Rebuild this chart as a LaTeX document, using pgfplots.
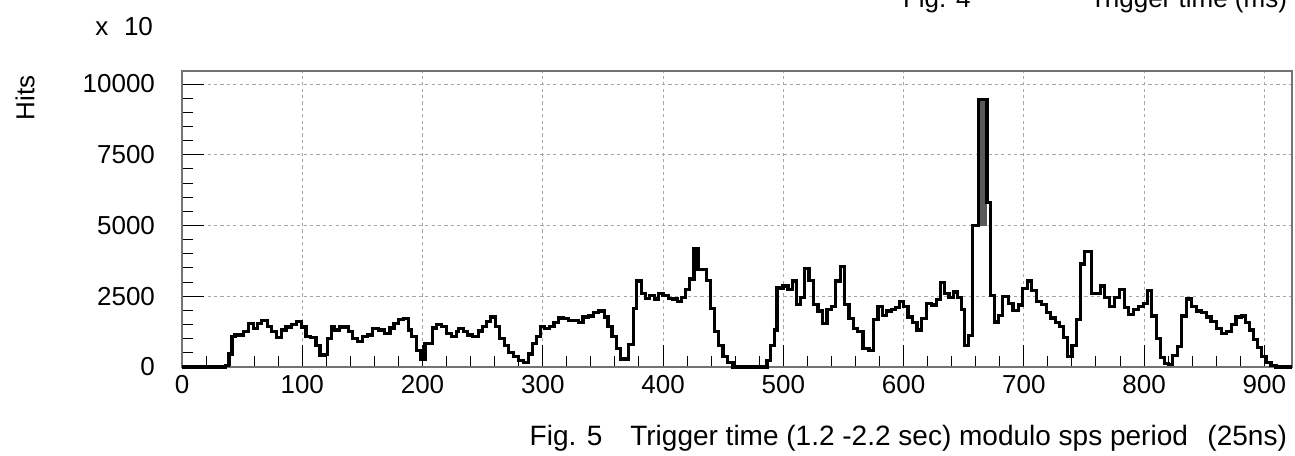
\documentclass[border=0pt]{standalone}
\usepackage{pgfplots}
\pgfplotsset{compat=1.18}
\usepackage{fontspec}
\setmainfont{Liberation Sans}
\begin{document}
\begin{tikzpicture}
\path[use as bounding box] (-91pt,-44pt) rectangle (556.5pt,183.5pt);
\begin{axis}[
  at={(0,0)}, anchor=south west,
  scale only axis, width=555pt, height=148pt,
  xmin=0, xmax=923, ymin=0, ymax=10460,
  xtick={0,100,...,900}, ytick={0,2500,5000,7500,10000},
  minor x tick num=4, minor y tick num=4,
  tick align=inside, xtick pos=left, ytick pos=left,
  major tick length=11pt, minor tick length=5.5pt,
  every tick/.style={black, line width=0.5pt},
  axis line style={black!55, line width=0.8pt},
  grid=major,
  major grid style={black!35, line width=0.5pt, dash pattern=on 1.6pt off 1.6pt},
  scaled ticks=false,
  /pgf/number format/assume math mode=true,
  /pgf/number format/1000 sep={},
  tick label style={font=\fontsize{13}{15}\selectfont},
  yticklabel style={xshift=-10pt},
  xticklabel style={yshift=-0.5pt},
  clip=false,
]
\addplot[fill=black!65, draw=none] coordinates {
(662.3,5000) (662.3,9450) (669.3,9450) (669.3,5000)} -- cycle;
\addplot[const plot mark left, black, line width=1.6pt, line join=miter] coordinates {
(0,0) (36.5,40) (38.5,460) (41.5,1090) (44,1130) (51,1250) (55.1,1530) (59.3,1350)
(62.6,1550) (66.2,1650) (70.9,1430) (74.5,1250) (78.7,1040) (82.8,1310) (86.4,1410)
(91.1,1490) (95.3,1610) (99.4,1410) (103.1,1090) (106.9,1040) (111.4,765) (114.7,400)
(118,440) (120.8,1010) (124.4,1430) (127.1,1310) (130.8,1410) (134.1,1410) (138.2,1250)
(141.8,1010) (145.7,890) (150.1,1070) (154,1130) (158.4,1350) (163.2,1310) (168.7,1170)
(172.9,1380) (176.2,1530) (179.8,1680) (183.9,1700) (188.1,1310) (190.9,1070) (195,580)
(198.3,280) (202,830) (204.7,830) (208.3,1380) (211.6,1490) (215.8,1430) (219.9,1190)
(224.1,1090) (228.2,1250) (229.7,1370) (233.8,1250) (237.4,1130) (241.3,1090)
(246.3,1270) (249.6,1430) (253.2,1610) (256.8,1770) (260.7,1430) (264.3,1010)
(267.9,765) (271.8,520) (275.4,360) (279.5,220) (283.7,160) (287.8,460) (291.2,830)
(294.8,1090) (298.4,1430) (301.7,1370) (305.8,1430) (309.4,1580) (313.3,1730)
(316.9,1700) (321.1,1650) (325.2,1650) (329.4,1580) (333.5,1770) (337.7,1800)
(341.9,1920) (346,1980) (351,1770) (354.3,1430) (357.6,1070) (361.2,640) (364.8,280)
(368.2,280) (371.5,800) (375.1,2060) (377.9,3040) (382,2590) (385.3,2430) (389,2530)
(392.6,2400) (396.4,2590) (400,2530) (404.2,2430) (408.3,2400) (411.9,2310)
(415.3,2470) (418.6,2740) (422.2,3110) (425.8,4200) (429.1,3440) (432.4,3440)
(436,3070) (439.6,2060) (443,1250) (446.3,765) (449.9,360) (453.5,160) (458.2,0)
(486.4,220) (489.2,765) (492.8,1310) (494.7,2790) (499.7,2860) (503.9,2740)
(507.5,3040) (510.8,2220) (514.1,2470) (517.7,3470) (521.3,3070) (525.2,2220)
(528.8,1980) (532.4,1530) (536.3,2040) (539.9,2140) (543.5,3040) (547.4,3560)
(551,2220) (554.6,1700) (558.4,1370) (562,1250) (566.2,640) (571.2,580) (575.1,1680)
(578.7,2140) (582.3,1820) (586.1,1980) (589.7,2040) (593.3,2100) (596.7,2310)
(600,2140) (603.6,1770) (607.2,1580) (611.1,1310) (614.7,1700) (618.8,2250)
(623,2190) (627.1,2380) (630.5,2980) (634.1,2590) (637.7,2470) (641.5,2650)
(645.1,2470) (648.3,2020) (650.7,770) (653.8,1100) (657.1,5000) (662.3,9450)
(669.3,5820) (672,2540) (675.6,1590) (679.2,1830) (682.5,2480) (687,2250) (691,2000)
(695.6,2190) (699.2,2770) (702.8,3040) (706.2,2710) (710.3,2310) (714.5,2220)
(718.6,1920) (722.2,1730) (726.1,1580) (729.7,1430) (733.3,1040) (736.6,360)
(740,765) (743.6,1680) (747.2,3640) (750.5,4080) (756,2590) (760.2,2590) (763.8,2860)
(767.1,2470) (771.3,2140) (775.4,2470) (779.6,2740) (783.7,2100) (787,1860)
(791.5,2020) (795.4,2140) (799.8,2250) (803.1,2710) (806.4,1800) (810,1010)
(813.6,340) (816.9,120) (820.3,100) (823.9,400) (827.5,730) (830.8,1800) (835,2400)
(839.1,2140) (843.3,1980) (847.4,1920) (851.6,1770) (855.7,1610) (859.9,1370)
(864.1,1190) (868.2,1250) (872.4,1490) (876.5,1770) (880.7,1800) (884,1580)
(887.6,1310) (891.2,970) (894.5,680) (897.8,360) (901.4,160) (905.6,40) (909.7,0)
(923,0)};
\end{axis}
\node[anchor=east, font=\fontsize{14}{16}\selectfont] at (556pt,-35.5pt)
  {Fig. 5\hspace{1em}Trigger time (1.2 -2.2 sec) modulo sps period\hspace{0.7em}(25ns)};
\node[rotate=90, font=\fontsize{13}{15}\selectfont] at (-78.5pt,134.5pt) {Hits};
\node[anchor=east, font=\fontsize{13}{15}\selectfont] at (-11pt,170pt) {x\hspace{0.6em}10};
\node[anchor=base west, font=\fontsize{13}{15}\selectfont] at (357pt,179.5pt) {Fig. 4};
\node[anchor=base east, font=\fontsize{13}{15}\selectfont] at (556pt,179.5pt) {Trigger time (ms)};
\end{tikzpicture}
\end{document}
